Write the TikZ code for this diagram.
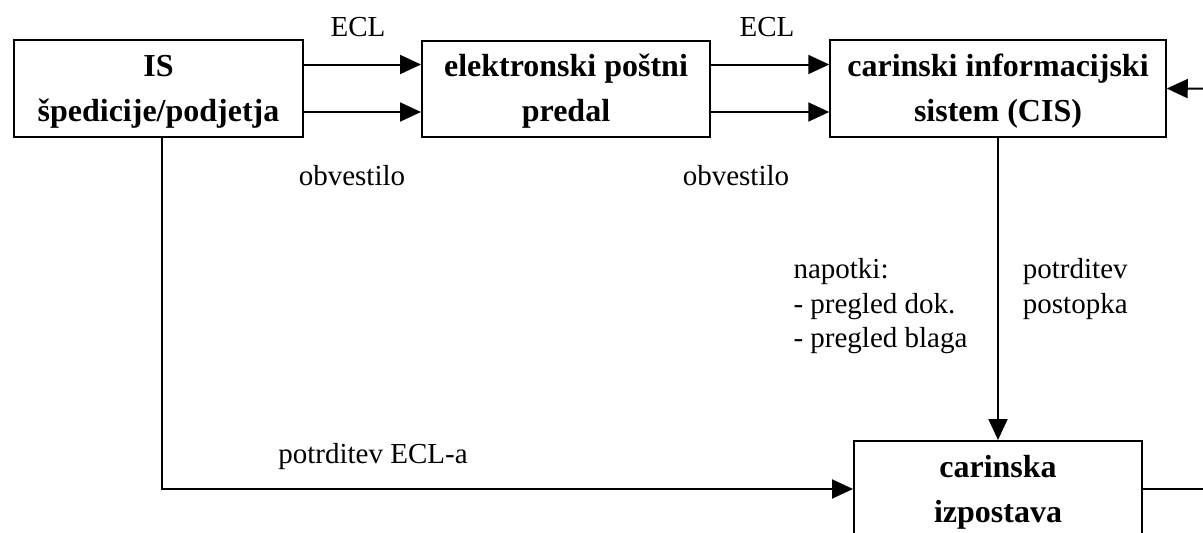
\documentclass[tikz,border=0pt]{standalone}
\usepackage{fontspec}
\setmainfont{Liberation Serif}
\usetikzlibrary{arrows.meta}
\newcommand\boxtopstrut{\rule{0pt}{28pt}}
\begin{document}
\begin{tikzpicture}[x=1pt,y=-1pt,
  box/.style={draw,line width=2pt,inner sep=0pt,align=center,font=\fontsize{32}{45}\selectfont\bfseries},
  lbl/.style={inner sep=0pt,font=\fontsize{29}{34.5}\selectfont},
  arr/.style={line width=2pt,-{Triangle[length=21pt,width=19pt]}},
  ln/.style={line width=2pt}]
\useasboundingbox (0,0) rectangle (1203,533);
\node[box,minimum width=289pt,minimum height=97pt] (is) at (158.5,88.5) {\boxtopstrut IS\\špedicije/podjetja};
\node[box,minimum width=288pt,minimum height=96pt] (ep) at (566,88.5) {\boxtopstrut elektronski poštni\\predal};
\node[box,minimum width=335.5pt,minimum height=97pt] (cis) at (998,88.5) {\boxtopstrut carinski informacijski\\sistem (CIS)};
\node[box,minimum width=288pt,minimum height=96pt] (ci) at (998,489) {\boxtopstrut carinska\\izpostava};
\coordinate (rin) at (1203,88.7);
\coordinate (rout) at (1203,489);
\draw[arr] ([yshift=24pt]is.east) -- ([yshift=24pt]ep.west);
\draw[arr] ([yshift=-23.5pt]is.east) -- ([yshift=-23.5pt]ep.west);
\draw[arr] ([yshift=24pt]ep.east) -- ([yshift=24pt]cis.west);
\draw[arr] ([yshift=-23.5pt]ep.east) -- ([yshift=-23.5pt]cis.west);
\draw[arr] (rin) -- (cis.east);
\draw[arr] (cis.south) -- (ci.north);
\draw[ln] (ci.east) -- (rout);
\draw[arr] ([xshift=3pt]is.south) |- (ci.west);
\node[lbl,anchor=base] (ecl1) at (358,36) {ECL};
\node[lbl,anchor=base] (ecl2) at (767,36) {ECL};
\node[lbl,anchor=base] (obv1) at (352,185) {obvestilo};
\node[lbl,anchor=base] (obv2) at (736,185) {obvestilo};
\node[lbl,anchor=base] (pecl) at (373,463) {potrditev ECL-a};
\node[lbl,anchor=north west,align=left] (nap) at (793.3,258.5) {napotki:\\- pregled dok.\\- pregled blaga};
\node[lbl,anchor=north west,align=left] (pot) at (1022.7,258.5) {potrditev\\postopka};
\end{tikzpicture}
\end{document}
